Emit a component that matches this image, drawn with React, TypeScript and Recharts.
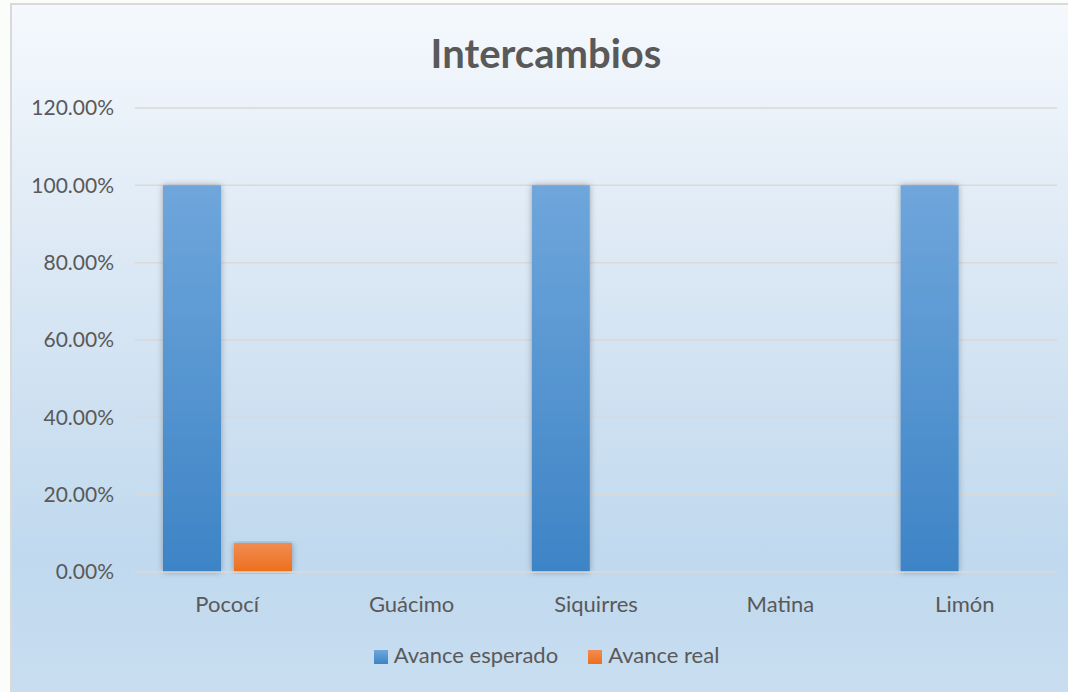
import React from "react";
import { BarChart, Bar, XAxis, YAxis, CartesianGrid, Legend } from "recharts";

const categories = ["Pococí", "Guácimo", "Siquirres", "Matina", "Limón"];
const avanceEsperado = [1, 0, 1, 0, 1];
const avanceReal = [0.075, 0, 0, 0, 0];
const yTicks = [0, 0.2, 0.4, 0.6, 0.8, 1, 1.2];

const data = categories.map((name, i) => ({
  name,
  esperado: avanceEsperado[i],
  real: avanceReal[i],
}));

const FONT = "Lato, 'Noto Sans', sans-serif";
const TEXT = "#595959";

export default function App() {
  return (
    <div style={{ position: "absolute", left: 0, top: 0, width: 1068, height: 692, background: "#fbfdfb", fontFamily: FONT }}>
      <div
        style={{
          position: "absolute",
          left: 10,
          top: 3,
          width: 1058,
          height: 689,
          boxSizing: "border-box",
          borderLeft: "2px solid #d9d9d9",
          borderTop: "2px solid #d9d9d9",
          background: "linear-gradient(to bottom, #f5f9fd 0%, #dde9f5 35%, #c0d9ee 80%, #c8ddf0 100%)",
        }}
      >
        <div
          style={{
            position: "absolute",
            left: 0,
            width: 1068,
            top: 24,
            textAlign: "center",
            fontSize: 40,
            fontWeight: 700,
            color: TEXT,
          }}
        >
          Intercambios
        </div>
        <BarChart
          width={1056}
          height={687}
          data={data}
          margin={{ top: 103, right: 11, bottom: 0, left: 0 }}
          barSize={58}
          barGap={13}
          style={{ position: "absolute", left: 0, top: 0 }}
        >
          <defs>
            <linearGradient id="gBlue" x1="0" y1="0" x2="0" y2="1">
              <stop offset="0%" stopColor="#6fa6db" />
              <stop offset="100%" stopColor="#3d84c6" />
            </linearGradient>
            <linearGradient id="gOrange" x1="0" y1="0" x2="0" y2="1">
              <stop offset="0%" stopColor="#f28c52" />
              <stop offset="100%" stopColor="#ec6f1c" />
            </linearGradient>
            <filter id="shadow" x="-20%" y="-5%" width="140%" height="110%">
              <feDropShadow dx="0" dy="0" stdDeviation="3" floodColor="#000" floodOpacity="0.3" />
            </filter>
          </defs>
          <CartesianGrid vertical={false} stroke="#d9d9d9" strokeWidth={1.5} />
          <XAxis
            dataKey="name"
            axisLine={{ stroke: "#d9d9d9", strokeWidth: 1.5 }}
            tickLine={false}
            tick={{ fill: TEXT, fontSize: 22, fontFamily: FONT }}
            tickMargin={18}
            height={93}
          />
          <YAxis
            domain={[0, 1.2]}
            ticks={yTicks}
            tickFormatter={(v: number) => `${(v * 100).toFixed(2)}%`}
            axisLine={false}
            tickLine={false}
            tickSize={0}
            tick={{ fill: TEXT, fontSize: 21, fontFamily: FONT }}
            tickMargin={21}
            width={123}
          />
          <Legend
            verticalAlign="bottom"
            align="center"
            iconType="square"
            iconSize={14}
            wrapperStyle={{ bottom: 24, paddingLeft: 17, fontSize: 22, fontFamily: FONT }}
            formatter={(value: string, _entry: unknown, index: number) => (
              <span style={{ color: TEXT, marginLeft: 2, marginRight: index === 0 ? 20 : 0 }}>{value}</span>
            )}
          />
          <Bar dataKey="esperado" name="Avance esperado" fill="url(#gBlue)" filter="url(#shadow)" isAnimationActive={false} legendType="square" />
          <Bar dataKey="real" name="Avance real" fill="url(#gOrange)" filter="url(#shadow)" isAnimationActive={false} legendType="square" />
        </BarChart>
      </div>
    </div>
  );
}
